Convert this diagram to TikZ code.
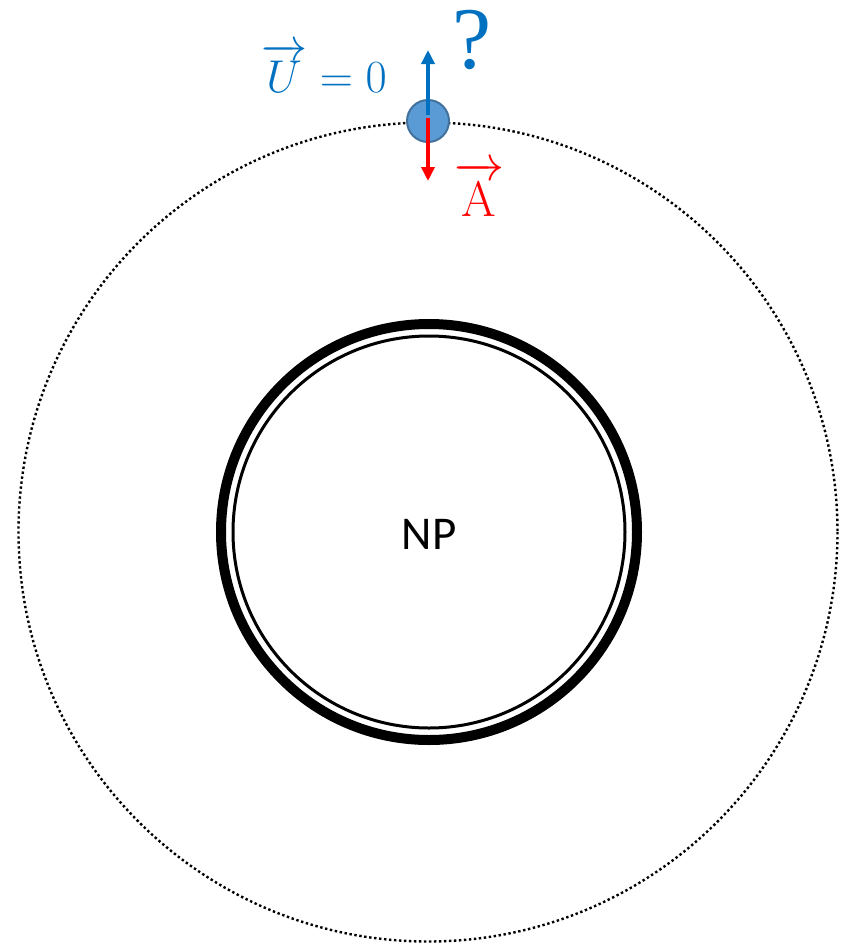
\documentclass[tikz,border=0pt]{standalone}
\usepackage{fix-cm}
\usepackage{amsmath}
\usepackage{fontspec}
\newfontfamily\npfont{Carlito}
\newfontfamily\qfont{Liberation Serif}
\usetikzlibrary{arrows.meta}
\definecolor{ublue}{HTML}{0070C0}
\definecolor{pfill}{HTML}{5B9BD5}
\definecolor{pedge}{HTML}{41719C}
\definecolor{ared}{HTML}{FF0000}
\tikzset{
  vecarrow/.style={line width=4.5pt,-{Triangle[length=14pt,width=13pt]}},
}
\begin{document}
\begin{tikzpicture}[x=1pt,y=-1pt]
\useasboundingbox (0,0) rectangle (846,943);
% dotted orbit
\draw[line width=2.4pt, dash pattern=on 2.4pt off 2.6pt] (428,532) circle (409.5);
% nanoparticle shell
\draw[line width=10pt] (429,532) circle (208);
\draw[line width=3pt] (429,532) circle (196);
\node[font=\npfont\fontsize{47}{52}\selectfont] (np) at (429,534) {NP};
% particle
\node[circle, minimum size=42pt, inner sep=0pt, fill=pfill, draw=pedge, line width=2pt] (p) at (428,121) {};
\coordinate (utip) at (428,50);
\coordinate (atip) at (428,181);
\draw[vecarrow, ublue] (p.center) ++(0,-6) -- (utip);
\draw[vecarrow, ared] (p.center) ++(0,-3) -- (atip);
\node[ublue, font=\fontsize{46}{50}\selectfont, anchor=base, inner sep=0pt] (u) at (324,92) {$\overrightarrow{U}=0$};
\node[ublue, font=\qfont\fontsize{88}{92}\selectfont, anchor=base, inner sep=0pt] (q) at (472,68) {?};
\node[ared, font=\fontsize{50}{54}\selectfont, anchor=base, inner sep=0pt] (a) at (479,216) {$\overrightarrow{\mathrm{A}}$};
\end{tikzpicture}
\end{document}
